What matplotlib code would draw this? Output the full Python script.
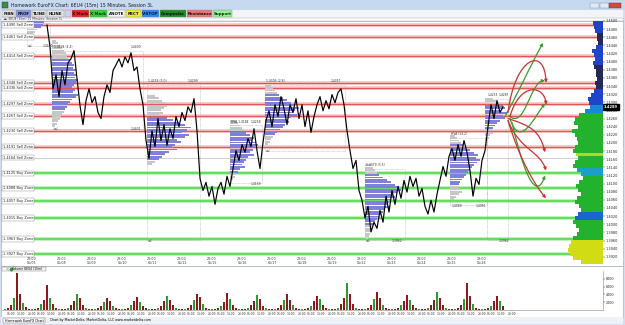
import numpy as np
import matplotlib
matplotlib.use("Agg")
import matplotlib.pyplot as plt
from matplotlib.patches import Rectangle, FancyArrowPatch
from matplotlib.path import Path

plt.rcParams['font.family'] = ['DejaVu Sans']

# ---------------- data ----------------
day_labels = ["05/05", "05/08", "05/09", "05/10", "05/11", "05/12", "05/15", "05/16",
              "05/17", "05/18", "05/19", "05/22", "05/23", "05/24", "05/25", "05/26"]

price_start_day = 0.5
bars_per_day = 10
price = [1.4490, 1.4436, 1.4333, 1.4368, 1.4314, 1.4378, 1.4343, 1.4397, 1.4407, 1.4427,
         1.4358, 1.4292, 1.4245, 1.4304, 1.4333, 1.4299, 1.4314, 1.4275, 1.4260, 1.4314,
         1.4343, 1.4324, 1.4378, 1.4392, 1.4407, 1.4387, 1.4412, 1.4397, 1.4422, 1.4378,
         1.4387, 1.4333, 1.4294, 1.4206, 1.4162, 1.4230, 1.4191, 1.4260, 1.4206, 1.4245,
         1.4194, 1.4235, 1.4211, 1.4265, 1.4240, 1.4275, 1.4255, 1.4289, 1.4275, 1.4309,
         1.4230, 1.4113, 1.4083, 1.4103, 1.4069, 1.4093, 1.4049, 1.4088, 1.4103, 1.4074,
         1.4118, 1.4093, 1.4137, 1.4181, 1.4157, 1.4196, 1.4177, 1.4211, 1.4191, 1.4235,
         1.4181, 1.4137, 1.4201, 1.4255, 1.4279, 1.4240, 1.4294, 1.4265, 1.4314, 1.4284,
         1.4245, 1.4294, 1.4275, 1.4309, 1.4260, 1.4294, 1.4240, 1.4279, 1.4226, 1.4265,
         1.4294, 1.4314, 1.4279, 1.4304, 1.4284, 1.4319, 1.4299, 1.4324, 1.4333, 1.4294,
         1.4230, 1.4181, 1.4137, 1.4157, 1.4083, 1.4059, 1.4015, 1.4044, 1.3981, 1.4005,
         1.3990, 1.4034, 1.4005, 1.4069, 1.4030, 1.4083, 1.4049, 1.4093, 1.4064, 1.4108,
         1.4079, 1.4118, 1.4093, 1.4113, 1.4069, 1.4088, 1.4044, 1.4025, 1.4059, 1.4030,
         1.4074, 1.4108, 1.4142, 1.4118, 1.4167, 1.4186, 1.4157, 1.4196, 1.4167, 1.4206,
         1.4177, 1.4132, 1.4069, 1.4113, 1.4098, 1.4157, 1.4181, 1.4240, 1.4294, 1.4260,
         1.4304, 1.4275, 1.4289]

sell_levels = [1.4490, 1.4461, 1.4414, 1.4348, 1.4336, 1.4297, 1.4267, 1.4230, 1.4191]
minor_levels = [1.4164]
buy_levels = [1.4125, 1.4088, 1.4057, 1.4015, 1.3963, 1.3927]

volume_start_day = -0.9
volume = [200, 400, 1200, 3000, 9500, 4200, 1800, 700, 300, 200,
          300, 600, 1500, 2600, 6500, 3200, 1500, 600, 300, 200,
          250, 500, 1400, 2200, 4200, 3000, 1300, 500, 250, 150,
          200, 450, 1100, 2000, 3200, 2400, 1100, 500, 300, 150,
          250, 500, 1200, 2400, 3400, 2000, 1000, 450, 250, 150,
          200, 400, 1000, 2300, 3600, 2600, 1200, 500, 250, 150,
          250, 500, 1300, 2600, 4100, 3300, 1500, 600, 300, 150,
          200, 400, 1100, 2000, 4300, 2800, 1300, 500, 250, 150,
          250, 500, 1200, 2400, 3800, 2700, 1100, 500, 250, 150,
          200, 500, 1300, 2500, 4000, 2600, 1200, 500, 250, 150,
          200, 500, 1100, 2300, 3500, 2700, 1200, 500, 250, 150,
          300, 600, 1500, 3000, 7000, 4200, 1600, 600, 300, 200,
          250, 500, 1400, 2800, 4600, 3000, 1300, 500, 250, 150,
          250, 500, 1300, 2400, 3800, 2600, 1200, 500, 250, 150,
          250, 500, 1300, 2600, 4500, 3200, 1400, 500, 250, 150,
          250, 550, 1400, 2800, 6800, 3600, 1500, 600, 300, 150,
          200, 450, 1100, 2200, 3700, 2200, 900]

# session volume profiles (start day, top price, volumes per row, value-area rows)
profile_starts = [-0.167, 0.667, 3.833, 6.6, 7.767, 11.1, 13.933, 15.1]
profile_tops = [1.4497, 1.4451, 1.4316, 1.4255, 1.4341, 1.4145, 1.4218, 1.4309]
profile_volumes = [
    [17, 16, 14, 10, 8, 6, 4],
    [4, 6, 8, 10, 12, 14, 15, 16, 18, 20, 22, 21, 24, 22, 25, 23, 26, 24, 22, 20, 23, 21,
     26, 24, 20, 18, 16, 15, 13, 12, 10, 9, 8, 6, 5, 3],
    [8, 12, 15, 18, 20, 17, 14, 16, 12, 20, 26, 32, 38, 44, 40, 35, 42, 38, 30, 34, 28, 25,
     30, 22, 18, 15, 12, 8, 5],
    [6, 8, 10, 12, 14, 16, 20, 24, 22, 26, 28, 25, 23, 20, 24, 18, 16, 14, 12, 15, 10, 8, 6, 5, 3],
    [6, 8, 10, 12, 14, 18, 22, 26, 30, 34, 30, 28, 32, 26, 22, 24, 20, 18, 15, 12, 10, 8, 6, 5, 3],
    [6, 8, 10, 12, 14, 18, 22, 26, 30, 34, 36, 32, 28, 30, 26, 24, 22, 25, 20, 18, 16, 14, 12,
     10, 9, 8, 7, 6, 5, 4, 3],
    [5, 7, 9, 11, 13, 16, 20, 24, 28, 26, 30, 27, 24, 22, 20, 18, 16, 14, 12, 10, 9, 8, 10, 12, 9, 6, 4],
    [8, 12, 16, 18, 20, 16, 22, 18, 20, 15, 12, 10, 8, 6, 8, 5, 4, 3, 3, 2],
]
profile_value_area = [(0, 2), (8, 28), (9, 26), (5, 21), (4, 20), (4, 24), (4, 20), (3, 12)]

# session boxes (start day, end day, top price, bottom price)
session_boxes = [(-0.167, 0.6, 1.4495, 1.4439), (0.7, 3.7, 1.4427, 1.4235),
                 (3.833, 5.6, 1.4343, 1.3961), (6.6, 7.667, 1.4243, 1.4101),
                 (7.767, 10.433, 1.4343, 1.4181), (11.1, 12.433, 1.4137, 1.3961),
                 (13.933, 15.167, 1.4213, 1.4047), (15.167, 15.867, 1.4309, 1.3961)]
box_notes = [("val", -0.15, 1.4434), ("1.4490", 0.35, 1.4434),
             ("1.4494 (4.4)", 0.72, 1.4431), ("1.4490", 3.3, 1.4431),
             ("val", 0.72, 1.4229), ("1.4401", 3.3, 1.4229),
             ("1.4254 (3.0)", 3.85, 1.4347), ("1.4299", 5.2, 1.4347), ("val", 3.85, 1.3955),
             ("HVA 1.4184", 6.62, 1.4247), ("1.4258", 7.3, 1.4247), ("1.4169", 7.3, 1.4095),
             ("1.4306 (2.8)", 7.8, 1.4347), ("1.4337", 9.95, 1.4347), ("val", 7.8, 1.4175),
             ("1.4079 (3.5)", 11.12, 1.4141), ("val", 11.12, 1.3955), ("1.3962", 12.0, 1.3955),
             ("HVA (14.2)", 13.95, 1.4217), ("1.4061", 14.8, 1.4041), ("1.4089", 14.0, 1.4041),
             ("1.4255", 15.2, 1.4313), ("1.4287", 15.55, 1.4313), ("1.3962", 15.55, 1.3955)]

# right-hand composite profile
right_profile_top = 1.4495
right_profile_volume = [10, 9, 8, 6, 6, 5, 7, 11, 9, 8, 10, 9, 7, 7, 6, 8, 7, 9, 12, 15, 14,
                        13, 18, 24, 28, 29, 25, 31, 28, 26, 25, 28, 30, 27, 25, 28, 30, 26, 22,
                        20, 24, 27, 25, 22, 26, 28, 24, 22, 25, 28, 30, 27, 24, 26, 30,
                        32, 34, 35, 33, 30, 22]
right_profile_zone = ("bbb" + "nnn" + "bbbbb" + "nnnnnn" + "bbbb" + "tt" + "gggggggggg" + "l"
                      + "ggg" + "cc" + "ggggggggg" + "kk" + "ggggg" + "yyyyyy")

# projection arrows: control points (day, price)
projections = [
    ("g", [(15.767, 1.4265), (16.2, 1.4322), (16.6, 1.4389), (17.033, 1.4446)]),
    ("r", [(15.867, 1.4275), (16.1, 1.4414), (17.1, 1.4439), (17.133, 1.4348)]),
    ("g", [(15.9, 1.4267), (16.433, 1.4230), (16.6, 1.4353), (17.1, 1.4353)]),
    ("r", [(15.933, 1.4265), (16.267, 1.4353), (17.1, 1.4341), (17.133, 1.4294)]),
    ("g", [(15.933, 1.4260), (16.267, 1.4181), (16.767, 1.4267), (17.1, 1.4297)]),
    ("r", [(15.867, 1.4260), (16.6, 1.4243), (16.933, 1.4230), (17.1, 1.4177)]),
    ("r", [(15.867, 1.4255), (16.267, 1.4181), (16.933, 1.4181), (17.133, 1.4132)]),
    ("g", [(16.0, 1.4250), (16.6, 1.4059), (16.933, 1.4083), (17.1, 1.4120)]),
    ("r", [(15.867, 1.4255), (16.267, 1.4157), (16.767, 1.4096), (17.133, 1.4064)]),
]

toolbar_buttons = [("FIBN", 2, 15, '#e2e2e2', '#111'), ("PROF", 16, 31, '#8c96e6', '#111'),
                   ("TLINE", 32, 46, '#e2e2e2', '#111'), ("HLINE", 47, 64, '#e2e2e2', '#111'),
                   ("", 65, 71, '#d6cdf2', '#111'), ("X Mark", 72, 89, '#e52222', '#3a0000'),
                   ("X Mark", 90, 107, '#2bd42b', '#002a00'), ("ANOTE", 108, 125, '#f6f6f6', '#111'),
                   ("RECT", 126, 141, '#f6ee22', '#111'), ("V-STOP", 142, 159, '#2c86f0', '#001a40'),
                   ("Composite", 160, 186, '#1f8a1f', '#001800'),
                   ("Resistance", 187, 212, '#e87878', '#300'), ("Support", 213, 232, '#96f096', '#030')]

# ---------------- layout ----------------
W, H = 625, 325
fig = plt.figure(figsize=(W / 100, H / 100), dpi=100)
fig.patch.set_facecolor('#d3dfee')


def axes_px(x0, y0, x1, y1):
    return fig.add_axes([x0 / W, 1 - y1 / H, (x1 - x0) / W, (y1 - y0) / H])


ui = axes_px(0, 0, W, H)
ui.set_xlim(0, W)
ui.set_ylim(H, 0)
ui.axis('off')
ui.set_zorder(0)


def rect(x0, y0, x1, y1, fc, ec='none', lw=0.4, z=1):
    ui.add_patch(Rectangle((x0, y0), x1 - x0, y1 - y0, facecolor=fc, edgecolor=ec,
                           linewidth=lw, zorder=z))


rect(0, 0, W, 9.5, '#c6d9ef')
rect(2, 1.5, 8, 7.5, '#3d8f3d', '#234', 0.3)
ui.text(11, 5, "Homework EuroFX Chart: 6EU4 (15m) 15 Minutes, Session 3L", fontsize=3.3,
        va='center', color='#1a1a2a')
rect(590, 2.5, 599, 8, '#dfe8f4', '#7890b0', 0.3)
rect(599.5, 2.5, 608.5, 8, '#dfe8f4', '#7890b0', 0.3)
rect(609, 2.5, 621, 8, '#d24a3e', '#7a2a20', 0.3)
rect(1, 9.5, 623, 17.5, '#f2f4f7')
for lbl, x0, x1, fc, tc in toolbar_buttons:
    rect(x0, 10, x1, 17, fc, '#8a8a8a', 0.3, z=2)
    ui.text((x0 + x1) / 2, 13.6, lbl, fontsize=2.9, weight='bold', ha='center', va='center',
            color=tc, zorder=3)
rect(1, 17.5, 623, 21, 'white', '#9aa3ad', 0.3)
ui.text(3, 19.3, "\u25c4\u25ba 6EU4 (15m) 15 Minutes, Session 3L", fontsize=2.2, va='center', color='#333')
rect(1, 21, 623, 266, 'white', '#9aa3ad', 0.4)
rect(1, 266, 623, 317, 'white', '#9aa3ad', 0.4)
rect(2, 266.6, 7, 270.6, 'white', '#777', 0.3, z=3)
rect(8, 266.6, 46, 270.6, '#f4f4f4', '#777', 0.3, z=3)
ui.plot([10.5], [268.6], marker='D', ms=1.5, color='#2a9a2a', zorder=4)
ui.text(12.5, 268.6, "Volume 6EU4 (15m)", fontsize=2.2, va='center', zorder=4)
rect(1, 317, 623, 324, '#eef1f5')
rect(3, 318, 45, 323, '#fafafa', '#666', 0.3, z=2)
ui.text(24, 320.5, "Homework EuroFX Chart", fontsize=2.3, ha='center', va='center', zorder=3)
ui.text(50, 320.5, "Chart by MarketDelta, MarketDelta, LLC www.marketdelta.com", fontsize=2.3,
        va='center')

# ---------------- price pane ----------------
ax = axes_px(2, 21, 603, 266)
ax.set_zorder(1)
ax.patch.set_visible(False)
for s in ax.spines.values():
    s.set_visible(False)
ax.set_xlim(-1.0, 19.033)
ax.set_ylim(1.38973, 1.44976)

for v in sell_levels:
    ax.axhline(v, color='#f6c4c4', lw=2.6, zorder=1)
    ax.axhline(v, color='#e25656', lw=0.9, zorder=1.1)
for v in minor_levels:
    ax.axhline(v, color='#c8c8c8', lw=0.6, zorder=1)
for v in buy_levels:
    ax.axhline(v, color='#bdf3b6', lw=2.8, zorder=1)
    ax.axhline(v, color='#5cdc5c', lw=1.3, zorder=1.1)

for v in sell_levels + minor_levels:
    ax.text(0.002, v, f"{v:.4f} Sell Zone", transform=ax.get_yaxis_transform(), fontsize=2.5,
            va='center', ha='left', color='#222', zorder=6,
            bbox=dict(boxstyle='square,pad=0.25', fc='white', ec='#8a8a8a', lw=0.3))
for v in buy_levels:
    ax.text(0.002, v, f"{v:.4f} Buy Zone", transform=ax.get_yaxis_transform(), fontsize=2.5,
            va='center', ha='left', color='#222', zorder=6,
            bbox=dict(boxstyle='square,pad=0.25', fc='white', ec='#8a8a8a', lw=0.3))

# session boxes
for x0, x1, ptop, pbot in session_boxes:
    ax.plot([x0, x1, x1, x0, x0], [ptop, ptop, pbot, pbot, ptop], color='#a0a0a0', lw=0.4,
            ls=(0, (1, 1.2)), zorder=2)
for txt, x, y in box_notes:
    ax.text(x, y, txt, fontsize=2.2, color='#333', va='bottom', ha='left', zorder=6)

# session volume profiles
row_step = 0.0006
for start, top, vols, (va0, va1) in zip(profile_starts, profile_tops, profile_volumes,
                                         profile_value_area):
    ys = top - row_step * np.arange(len(vols))
    cols = ['#8080da' if va0 <= i <= va1 else '#c6c6c6' for i in range(len(vols))]
    ax.barh(ys, np.array(vols) / 30.0, left=start, height=row_step * 0.78, color=cols,
            edgecolor='none', zorder=3)

# price line
t = price_start_day + np.arange(len(price)) / bars_per_day
ax.plot(t, price, color='black', lw=0.85, zorder=5)

# projections
pcol = {"g": '#3c9a2c', "r": '#c83232'}
for c, pts in projections:
    path = Path(pts, [Path.MOVETO, Path.CURVE4, Path.CURVE4, Path.CURVE4])
    arr = FancyArrowPatch(path=path, arrowstyle='-|>', mutation_scale=4, color=pcol[c],
                          lw=0.9, zorder=7)
    ax.add_patch(arr)

# date labels
xt = ax.get_xaxis_transform()
for k, lbl in enumerate(day_labels):
    ax.text(k, 0.004, f"23:00\n{lbl}", transform=xt, fontsize=2.3, ha='center', va='bottom',
            color='#333', linespacing=0.95, zorder=6)

# right price axis
ax.set_xticks([])
ax.yaxis.tick_right()
ticks = np.round(np.arange(1.3920, 1.4501, 0.0020), 4)
ax.set_yticks(ticks)
ax.set_yticklabels([f"{v:.4f}" for v in ticks])
ax.tick_params(axis='y', labelsize=2.5, length=1.2, width=0.3, pad=0.8, colors='#222')
ax.text(1.001, price[-1], f"{price[-1]:.4f}", transform=ax.get_yaxis_transform(), fontsize=2.6,
        color='white', weight='bold', va='center', ha='left', zorder=10,
        bbox=dict(boxstyle='square,pad=0.3', fc='black', ec='black'))

# right composite profile
zone_col = {'b': '#1f44c8', 'n': '#24295a', 't': '#1a86d6', 'g': '#22b22e', 'l': '#b5d42a',
            'c': '#1aa0c8', 'k': '#1a66d0', 'y': '#d2dc14'}
rp = axes_px(563, 21, 603, 266)
rp.set_zorder(2)
rp.patch.set_visible(False)
rp.axis('off')
rp.set_ylim(ax.get_ylim())
rp.set_xlim(40, 0)
rstep = 0.00098
rys = right_profile_top - rstep * np.arange(len(right_profile_volume))
rp.barh(rys, right_profile_volume, height=rstep, color=[zone_col[z] for z in right_profile_zone],
        edgecolor='none')

# ---------------- volume pane ----------------
vx = axes_px(2, 271, 603, 310)
vx.set_zorder(1)
vx.patch.set_visible(False)
for s in ['top', 'left']:
    vx.spines[s].set_visible(False)
vx.spines['right'].set_color('#888')
vx.spines['bottom'].set_color('#888')
vx.spines['right'].set_linewidth(0.4)
vx.spines['bottom'].set_linewidth(0.4)
vx.set_xlim(ax.get_xlim())
vx.set_ylim(0, 10000)
vt = volume_start_day + np.arange(len(volume)) / bars_per_day
vcols = ['#8c1a1a' if i % 3 else '#2f9a2f' for i in range(len(volume))]
vx.bar(vt, volume, width=0.06, color=vcols, edgecolor='none')
vx.yaxis.tick_right()
vx.set_yticks([2000, 4000, 6000, 8000])
vx.tick_params(axis='y', labelsize=2.4, length=1.2, width=0.3, pad=0.8, colors='#222')
hour_ticks, hour_labels = [], []
for k in range(-1, 16):
    for off, lab in [(7 / 24, "06:00"), (15 / 24, "14:00"), (1.0, "23:00")]:
        hour_ticks.append(k + off)
        hour_labels.append(lab)
vx.set_xticks(hour_ticks)
vx.set_xticklabels(hour_labels)
vx.tick_params(axis='x', labelsize=2.1, length=1.0, width=0.3, pad=0.4, colors='#333')

fig.savefig("out.png", dpi=100, facecolor=fig.get_facecolor())
